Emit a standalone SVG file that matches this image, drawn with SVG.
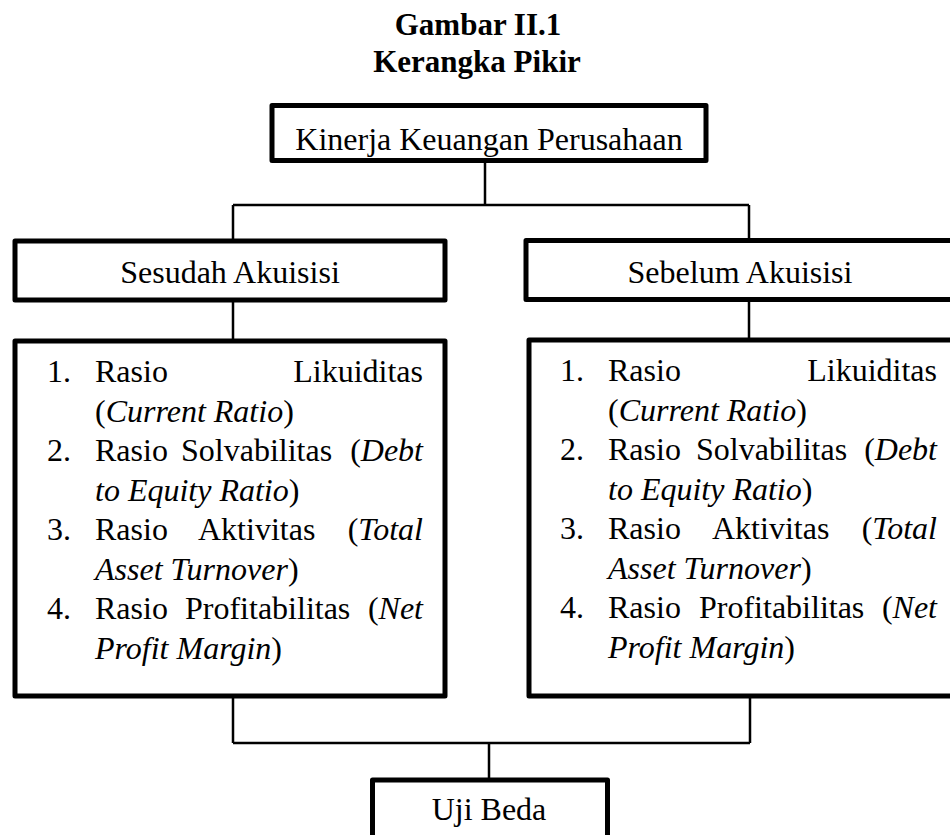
<svg xmlns="http://www.w3.org/2000/svg" width="950" height="835" viewBox="0 0 950 835">
<style>
.box{fill:#fff;stroke:#000;stroke-width:5;stroke-linejoin:round}
.con{fill:none;stroke:#000;stroke-width:2.5}
text{font-family:"Liberation Serif","Times New Roman",serif;font-size:32px;fill:#000}
.t{font-weight:bold;font-size:31px;text-anchor:middle}
.c{text-anchor:middle}
.e{text-anchor:end}
.i{font-style:italic}
</style>
<rect width="950" height="835" fill="#fff"/>
<g id="title">
<text class="t" x="478" y="35">Gambar II.1</text>
<text class="t" x="477" y="72">Kerangka Pikir</text>
</g>
<g id="connectors">
<path class="con" d="M485 163V205M233 205H749M233 205V239M749 205V239"/>
<path class="con" d="M233 302V339M749 300V338"/>
<path class="con" d="M233 698V743M750 698V743M233 743H750M489 743V778"/>
</g>
<g id="kinerja">
<rect class="box" x="272" y="105.5" width="434" height="55"/>
<text class="c" x="489" y="150">Kinerja Keuangan Perusahaan</text>
</g>
<g id="sesudah">
<rect class="box" x="15" y="241" width="430" height="59"/>
<text class="c" x="230" y="283">Sesudah Akuisisi</text>
</g>
<g id="sebelum">
<rect class="box" x="526" y="240.5" width="428" height="59"/>
<text class="c" x="740" y="283">Sebelum Akuisisi</text>
</g>
<g id="list-sesudah">
<rect class="box" x="15" y="341" width="430" height="355"/>
<text x="47" y="382">1.</text><text x="95" y="382">Rasio</text><text class="e" x="423" y="382">Likuiditas</text>
<text x="95" y="421.5">(<tspan class="i">Current Ratio</tspan>)</text>
<text x="47" y="461">2.</text><text x="95" y="461">Rasio</text><text x="181" y="461">Solvabilitas</text><text class="e" x="423" y="461">(<tspan class="i">Debt</tspan></text>
<text x="95" y="500.5"><tspan class="i">to Equity Ratio</tspan>)</text>
<text x="47" y="540">3.</text><text x="95" y="540">Rasio</text><text x="198" y="540">Aktivitas</text><text class="e" x="423" y="540">(<tspan class="i">Total</tspan></text>
<text x="95" y="579.5"><tspan class="i">Asset Turnover</tspan>)</text>
<text x="47" y="619">4.</text><text x="95" y="619">Rasio</text><text x="185" y="619">Profitabilitas</text><text class="e" x="423" y="619">(<tspan class="i">Net</tspan></text>
<text x="95" y="658.5"><tspan class="i">Profit Margin</tspan>)</text>
</g>
<g id="list-sebelum">
<rect class="box" x="529" y="340" width="428" height="356"/>
<text x="560" y="381">1.</text><text x="608" y="381">Rasio</text><text class="e" x="937" y="381">Likuiditas</text>
<text x="608" y="420.5">(<tspan class="i">Current Ratio</tspan>)</text>
<text x="560" y="460">2.</text><text x="608" y="460">Rasio</text><text x="696" y="460">Solvabilitas</text><text class="e" x="937" y="460">(<tspan class="i">Debt</tspan></text>
<text x="608" y="499.5"><tspan class="i">to Equity Ratio</tspan>)</text>
<text x="560" y="539">3.</text><text x="608" y="539">Rasio</text><text x="712" y="539">Aktivitas</text><text class="e" x="937" y="539">(<tspan class="i">Total</tspan></text>
<text x="608" y="578.5"><tspan class="i">Asset Turnover</tspan>)</text>
<text x="560" y="618">4.</text><text x="608" y="618">Rasio</text><text x="699" y="618">Profitabilitas</text><text class="e" x="937" y="618">(<tspan class="i">Net</tspan></text>
<text x="608" y="657.5"><tspan class="i">Profit Margin</tspan>)</text>
</g>
<g id="uji-beda">
<rect class="box" x="372.5" y="780" width="235" height="80"/>
<text class="c" x="489" y="820">Uji Beda</text>
</g>
</svg>
